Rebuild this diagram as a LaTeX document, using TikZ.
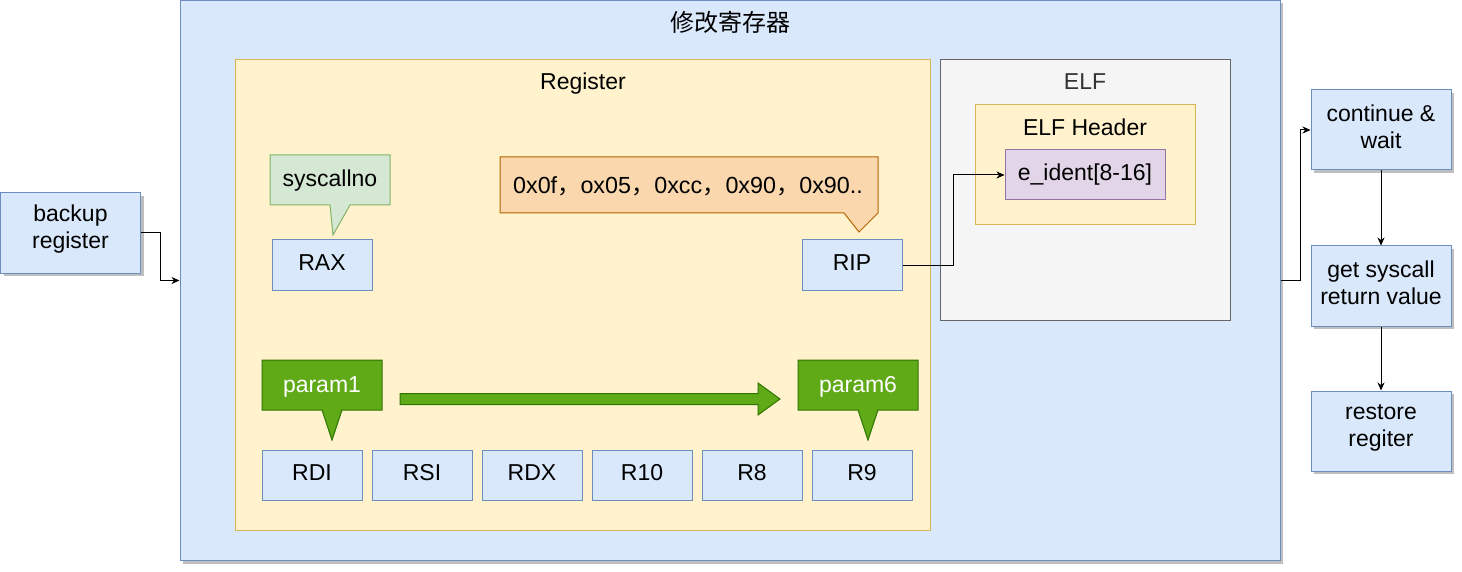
\documentclass[tikz,border=0pt]{standalone}
\usepackage{fontspec}
\setmainfont{Liberation Sans}
\newfontfamily\cjkfont{Noto Sans CJK SC}
\usetikzlibrary{shadows,arrows.meta}
\definecolor{bluef}{HTML}{DAE8FC}\definecolor{blued}{HTML}{6C8EBF}
\definecolor{yelf}{HTML}{FFF2CC}\definecolor{yeld}{HTML}{D6B656}
\definecolor{grnf}{HTML}{D5E8D4}\definecolor{grnd}{HTML}{82B366}
\definecolor{orf}{HTML}{FAD7AC}\definecolor{ord}{HTML}{B46504}
\definecolor{gryf}{HTML}{F5F5F5}\definecolor{gryd}{HTML}{666666}
\definecolor{purf}{HTML}{E1D5E7}\definecolor{purd}{HTML}{9673A6}
\definecolor{dgf}{HTML}{60A917}\definecolor{dgd}{HTML}{2D7600}
\definecolor{titlegray}{HTML}{333333}
\tikzset{
  txt/.style={font=\fontsize{23}{27}\selectfont, align=center, inner sep=0pt},
  box/.style={draw, line width=1pt, inner sep=0pt, txt},
  onetext/.style={text height=17pt, text depth=6.5pt},
  regbox/.style={box, onetext, fill=bluef, draw=blued, minimum width=100pt, minimum height=50pt},
  shad/.style={drop shadow={shadow xshift=3pt, shadow yshift=-3pt, opacity=0.25, fill=black}},
  flowbox/.style={box, fill=bluef, draw=blued, minimum width=140pt, minimum height=80pt, shad},
  flowtext/.style={txt, yshift=3.5pt},
  arr/.style={draw=black, line width=1pt, -{Stealth[length=8pt,width=7pt,inset=2.5pt]}},
  callgreen/.style={draw=grnd, fill=grnf, line width=1pt, line join=miter},
  callorange/.style={draw=ord, fill=orf, line width=1pt},
  calldark/.style={draw=dgd, fill=dgf, line width=1pt},
}
\begin{document}
\begin{tikzpicture}[x=1pt,y=-1pt]
\useasboundingbox[fill=white] (0,0) rectangle (1462,572);
% main container
\node[box, fill=bluef, draw=blued, minimum width=1100pt, minimum height=560pt, shad] (main) at (730,280.5) {};
\node[txt, font=\cjkfont\fontsize{24}{28}\selectfont] (maintitle) at (730,22) {修改寄存器};
% register container
\node[box, fill=yelf, draw=yeld, minimum width=695pt, minimum height=470pt] (regc) at (582.5,295) {};
\node[txt] (regtitle) at (583,83.5) {Register};
% ELF container
\node[box, fill=gryf, draw=gryd, minimum width=290pt, minimum height=260pt] (elf) at (1085,190) {};
\node[txt, text=titlegray] (elftitle) at (1085,82) {ELF};
\node[box, fill=yelf, draw=yeld, minimum width=220pt, minimum height=120pt] (elfh) at (1085,165) {};
\node[txt] (elfhtitle) at (1085,127) {ELF Header};
\node[box, onetext, fill=purf, draw=purd, minimum width=160pt, minimum height=50pt] (eident) at (1085,175) {e\_ident[8-16]};
% callouts
\draw[callgreen] (270,155) -- (390,155) -- (390,205) -- (350,205) -- (333,235) -- (330,205) -- (270,205) -- cycle;
\node[txt] (sysno) at (330,181) {syscallno};
\draw[callorange] (500,157) -- (878,157) -- (878,213) -- (859,232) -- (844,213) -- (500,213) -- cycle;
\node[txt, font=\fontsize{23.3}{27}\selectfont] (bytes) at (688,186) {0x0f{\cjkfont ，}ox05{\cjkfont ，}0xcc{\cjkfont ，}0x90{\cjkfont ，}0x90..};
\node[regbox] (rax) at (322,265) {RAX};
\node[regbox] (rip) at (852,265) {RIP};
\draw[calldark] (262,360) -- (382,360) -- (382,410) -- (342,410) -- (332,440) -- (322,410) -- (262,410) -- cycle;
\node[txt, text=white] (p1) at (322,387) {param1};
\draw[calldark] (798,360) -- (918,360) -- (918,410) -- (878,410) -- (868,440) -- (858,410) -- (798,410) -- cycle;
\node[txt, text=white] (p6) at (858,387) {param6};
\draw[calldark, line join=miter] (400,393.5) -- (758,393.5) -- (758,383) -- (780,399) -- (758,415) -- (758,404.5) -- (400,404.5) -- cycle;
\node[regbox] (rdi) at (312,475) {RDI};
\node[regbox] (rsi) at (422,475) {RSI};
\node[regbox] (rdx) at (532,475) {RDX};
\node[regbox] (r10) at (642,475) {R10};
\node[regbox] (r8) at (752,475) {R8};
\node[regbox] (r9) at (862,475) {R9};
% left / right flow
\node[flowbox, label={[flowtext]center:{backup\\register}}] (backup) at (70.5,233) {};
\node[flowbox, label={[flowtext]center:{continue \&\\wait}}] (cont) at (1381,130) {};
\node[flowbox, label={[flowtext]center:{get syscall\\return value}}] (ret) at (1381,286) {};
\node[flowbox, label={[flowtext]center:{restore\\regiter}}] (restore) at (1381,431) {};
% connectors
\draw[arr] (backup.east) -- ([xshift=19pt]backup.east) |- (main.west);
\draw[arr] (rip.east) -- ([xshift=51pt]rip.east) |- (eident.west);
\draw[arr] (main.east) -- ([xshift=20pt]main.east) |- (cont.west);
\draw[arr] (cont.south) -- (ret.north);
\draw[arr] (ret.south) -- (restore.north);
\end{tikzpicture}
\end{document}
